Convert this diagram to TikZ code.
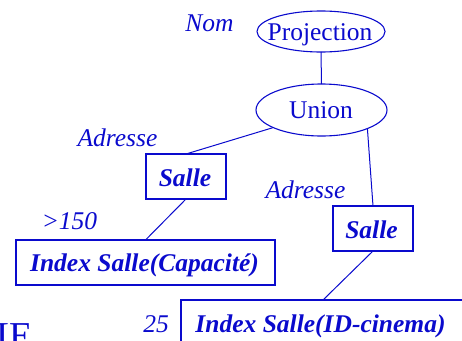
\documentclass[tikz,border=0pt]{standalone}
\usepackage{fontspec}
\setmainfont{Liberation Serif}
\usetikzlibrary{shapes.geometric}
\definecolor{ink}{RGB}{10,10,205}
\begin{document}
\begin{tikzpicture}[x=1pt,y=-1pt,
  every node/.style={inner sep=0pt, outer sep=0pt, text=ink},
  oval/.style={draw=ink, line width=1.1pt, ellipse},
  box/.style={draw=ink, line width=1.1pt, rectangle},
  txt/.style={anchor=base, font=\fontsize{25.5}{30}\selectfont},
  lab/.style={anchor=base, font=\fontsize{25.5}{30}\selectfont\itshape},
  bold/.style={anchor=base, font=\fontsize{25.5}{30}\selectfont\bfseries\itshape},
  link/.style={draw=ink, line width=1pt}]
\clip (0,0) rectangle (462,340);
\node[oval, minimum width=128pt, minimum height=41pt] (proj) at (321,31.5) {};
\node[txt] (projt) at (320,40.7) {Projection};
\node[oval, minimum width=131pt, minimum height=52pt] (union) at (321.5,110) {};
\node[txt] (uniont) at (321,118) {Union};
\node[lab] (nom) at (209.5,31.7) {Nom};
\node[box, minimum width=80pt, minimum height=45pt] (salle1) at (186,176.5) {};
\node[bold] (salle1t) at (185,186) {Salle};
\node[lab] (adr1) at (117.5,146.7) {Adresse};
\node[box, minimum width=80pt, minimum height=45pt] (salle2) at (373,228.5) {};
\node[bold] (salle2t) at (371.5,238) {Salle};
\node[lab] (adr2) at (305.5,198) {Adresse};
\node[lab] (gt) at (69.5,229) {>150};
\node[box, minimum width=259pt, minimum height=45pt] (idx1) at (145.5,262.5) {};
\node[bold] (idx1t) at (144.5,271) {Index Salle(Capacité)};
\node[lab] (n25) at (156,332) {25};
\node[box, minimum width=284pt, minimum height=45pt] (idx2) at (323,322.5) {};
\node[bold] (idx2t) at (320.5,332) {Index Salle(ID-cinema)};
\node[anchor=base west, font=\fontsize{38}{42}\selectfont] (le) at (-3,348) {L\kern-11pt E};
\draw[link] (proj.south) -- (union.north);
\draw[link] (union.200.75) -- (salle1.north);
\draw[link] (union.338.8) -- (salle2.north);
\draw[link] (salle1.south) -- (idx1.north);
\draw[link] (salle2.south) -- (idx2.north);
\end{tikzpicture}
\end{document}
